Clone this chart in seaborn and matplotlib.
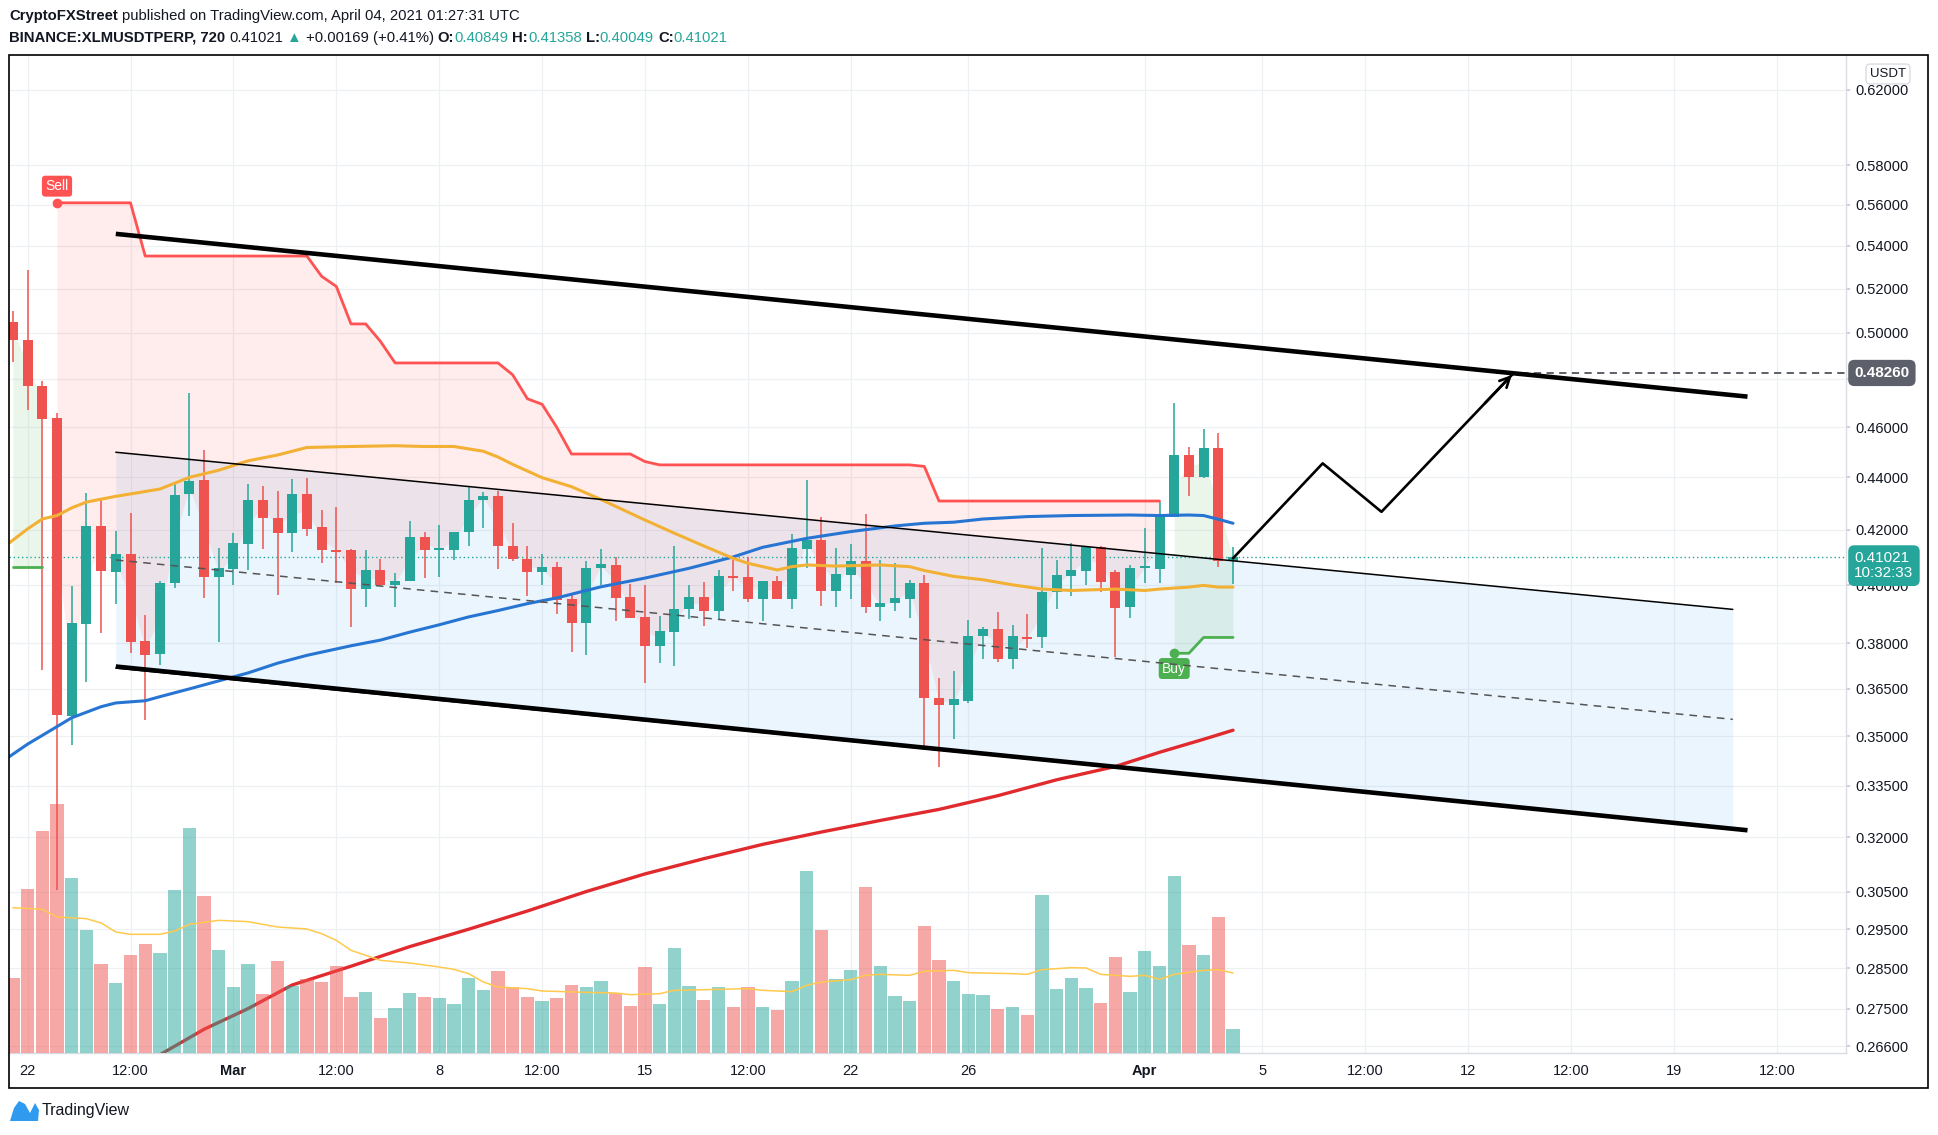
import numpy as np
import pandas as pd
import matplotlib
matplotlib.use("Agg")
import matplotlib.pyplot as plt
import seaborn as sns
from matplotlib.patches import Rectangle, Polygon
from matplotlib.ticker import FixedLocator, NullLocator

# --- candles, 12h bars, index 0 = Feb 22 00:00 ---
candle_idx = list(range(-1, 83))
opens = [0.5048, 0.4968, 0.4769, 0.4638, 0.3564, 0.3865, 0.4214, 0.4048, 0.4111, 0.3807,
         0.3762, 0.4006, 0.4334, 0.4390, 0.4030, 0.4058, 0.4150, 0.4312, 0.4243, 0.4190,
         0.4334, 0.4211, 0.4127, 0.4127, 0.3986, 0.4053, 0.3999, 0.4016, 0.4173, 0.4127,
         0.4127, 0.4193, 0.4312, 0.4327, 0.4141, 0.4092, 0.4048, 0.4064, 0.3951, 0.3869,
         0.4061, 0.4072, 0.3957, 0.3890, 0.3791, 0.3838, 0.3917, 0.3957, 0.3911, 0.4033,
         0.4028, 0.3950, 0.4015, 0.3952, 0.4131, 0.4163, 0.3980, 0.4036, 0.4086, 0.3924,
         0.3936, 0.3950, 0.4006, 0.3619, 0.3599, 0.3611, 0.3824, 0.3847, 0.3747, 0.3822,
         0.3819, 0.3977, 0.4033, 0.4051, 0.4138, 0.4048, 0.3924, 0.4060, 0.4057, 0.4250,
         0.4488, 0.4403, 0.4515, 0.40849]
highs = [0.5096, 0.5284, 0.4790, 0.4657, 0.3996, 0.4339, 0.4317, 0.4197, 0.4264, 0.3896,
         0.4016, 0.4378, 0.4741, 0.4507, 0.4134, 0.4190, 0.4374, 0.4367, 0.4349, 0.4393,
         0.4398, 0.4276, 0.4287, 0.4129, 0.4127, 0.4092, 0.4043, 0.4233, 0.4193, 0.4219,
         0.4193, 0.4364, 0.4342, 0.4349, 0.4226, 0.4141, 0.4113, 0.4081, 0.3969, 0.4088,
         0.4130, 0.4100, 0.4003, 0.4000, 0.3892, 0.4141, 0.4000, 0.4011, 0.4054, 0.4096,
         0.4100, 0.4015, 0.4033, 0.4185, 0.4390, 0.4247, 0.4134, 0.4148, 0.4260, 0.4090,
         0.4078, 0.4018, 0.4035, 0.3683, 0.3707, 0.3879, 0.3856, 0.3905, 0.3860, 0.3898,
         0.4132, 0.4090, 0.4151, 0.4141, 0.4141, 0.4054, 0.4072, 0.4206, 0.4307, 0.4701,
         0.4521, 0.4591, 0.4575, 0.41358]
lows = [0.4872, 0.4670, 0.3709, 0.3054, 0.3472, 0.3671, 0.3834, 0.3932, 0.3766, 0.3549,
        0.3728, 0.3989, 0.4254, 0.3956, 0.3804, 0.4000, 0.4053, 0.4131, 0.3966, 0.4120,
        0.4176, 0.4078, 0.4009, 0.3856, 0.3925, 0.3996, 0.3922, 0.4016, 0.4026, 0.4030,
        0.4089, 0.4141, 0.4207, 0.4058, 0.4085, 0.3960, 0.3999, 0.3900, 0.3770, 0.3759,
        0.4000, 0.3876, 0.3884, 0.3667, 0.3735, 0.3725, 0.3881, 0.3859, 0.3881, 0.3980,
        0.3940, 0.3876, 0.3950, 0.3918, 0.4060, 0.3927, 0.3924, 0.3950, 0.3904, 0.3876,
        0.3911, 0.3886, 0.3467, 0.3404, 0.3490, 0.3605, 0.3746, 0.3738, 0.3713, 0.3785,
        0.3782, 0.3918, 0.3962, 0.4000, 0.3977, 0.3755, 0.3886, 0.4009, 0.4009, 0.4250,
        0.4330, 0.4399, 0.4063, 0.40049]
closes = [0.4968, 0.4769, 0.4635, 0.3567, 0.3867, 0.4214, 0.4051, 0.4113, 0.3802, 0.3759,
          0.4007, 0.4331, 0.4386, 0.4030, 0.4060, 0.4152, 0.4312, 0.4243, 0.4190, 0.4334,
          0.4204, 0.4127, 0.4120, 0.3986, 0.4053, 0.3999, 0.4016, 0.4173, 0.4127, 0.4129,
          0.4193, 0.4312, 0.4327, 0.4141, 0.4092, 0.4048, 0.4064, 0.3949, 0.3869, 0.4061,
          0.4075, 0.3956, 0.3886, 0.3791, 0.3841, 0.3917, 0.3957, 0.3911, 0.4033, 0.4025,
          0.3950, 0.4015, 0.3952, 0.4132, 0.4163, 0.3980, 0.4040, 0.4086, 0.3924, 0.3936,
          0.3953, 0.4006, 0.3619, 0.3599, 0.3615, 0.3824, 0.3847, 0.3747, 0.3824, 0.3815,
          0.3977, 0.4035, 0.4054, 0.4138, 0.4012, 0.3921, 0.4060, 0.4063, 0.4252, 0.4488,
          0.4403, 0.4515, 0.4087, 0.41021]
volumes = [112.5, 245.5, 332.5, 373, 262, 184, 133, 104.5, 146.5, 163,
           149.5, 244, 337, 235, 154, 98.5, 133, 88, 137.5, 100,
           110.5, 106, 130, 83.5, 91, 52, 67, 89.5, 83.5, 82,
           73, 112, 94, 122.5, 98.5, 83.5, 77.5, 82, 101.5, 98.5,
           107.5, 89.5, 70, 128.5, 73, 157, 100, 79, 98.5, 68.5,
           98.5, 68.5, 64, 107.5, 272.5, 184, 110.5, 124, 248.5, 130,
           85, 77.5, 190, 139, 107.5, 88, 86.5, 65.5, 68.5, 56.5,
           236.5, 95.5, 112, 97, 74.5, 143.5, 91, 152.5, 130, 265,
           161.5, 146.5, 203.5, 35.5]

# --- supertrend ---
st_red_idx = list(range(2, 78))
st_red = [0.5610, 0.5610, 0.5610, 0.5610, 0.5610, 0.5610,
          0.5352, 0.5352, 0.5352, 0.5352, 0.5352, 0.5352, 0.5352, 0.5352, 0.5352, 0.5352, 0.5352, 0.5352,
          0.5257, 0.5210, 0.5040, 0.5040, 0.4963,
          0.4869, 0.4869, 0.4869, 0.4869, 0.4869, 0.4869, 0.4869, 0.4869,
          0.4818, 0.4717, 0.4694, 0.4599,
          0.4492, 0.4492, 0.4492, 0.4492, 0.4492, 0.4462,
          0.4449, 0.4449, 0.4449, 0.4449, 0.4449, 0.4449, 0.4449, 0.4449, 0.4449,
          0.4449, 0.4449, 0.4449, 0.4449, 0.4449, 0.4449, 0.4449, 0.4449, 0.4449,
          0.4443,
          0.4309, 0.4309, 0.4309, 0.4309, 0.4309, 0.4309, 0.4309, 0.4309,
          0.4309, 0.4309, 0.4309, 0.4309, 0.4309, 0.4309, 0.4309, 0.4309]
st_green_a_idx = [-1, 0, 1]
st_green_a = [0.4065, 0.4065, 0.4065]
st_green_b_idx = [78, 79, 80, 81, 82]
st_green_b = [0.3766, 0.3766, 0.3819, 0.3819, 0.3819]

# --- moving averages ---
ma_orange_idx = [-1.3, 0, 1, 2, 3, 4, 6, 7, 9, 11, 12, 13, 15, 17, 19, 22, 25, 27, 29, 31, 32, 33, 35,
                 37, 39, 42, 44, 46, 48, 49, 51, 52, 53, 55, 58, 60, 61, 63, 65, 67, 69, 71, 74, 76,
                 77, 79, 80, 81, 82]
ma_orange = [0.4150, 0.4204, 0.4241, 0.4254, 0.4283, 0.4305, 0.4327, 0.4336, 0.4355, 0.4400, 0.4414,
             0.4428, 0.4465, 0.4488, 0.4518, 0.4522, 0.4525, 0.4522, 0.4522, 0.4503, 0.4480, 0.4451,
             0.4399, 0.4364, 0.4315, 0.4237, 0.4188, 0.4141, 0.4096, 0.4078, 0.4054, 0.4066, 0.4072,
             0.4068, 0.4072, 0.4066, 0.4052, 0.4031, 0.4019, 0.4001, 0.3986, 0.3981, 0.3986, 0.3981,
             0.3986, 0.3993, 0.3999, 0.3993, 0.3993]
ma_blue_idx = [-1.3, 0, 1, 3, 5, 6, 8, 9, 11, 13, 15, 17, 19, 22, 24, 26, 28, 30, 32, 34, 36, 38, 39,
               42, 45, 48, 50, 53, 56, 59, 61, 63, 65, 68, 71, 75, 77, 79, 80, 81, 82]
ma_blue = [0.3435, 0.3475, 0.3502, 0.3557, 0.3592, 0.3604, 0.3611, 0.3624, 0.3649, 0.3675, 0.3701,
           0.3733, 0.3759, 0.3791, 0.3810, 0.3837, 0.3862, 0.3889, 0.3911, 0.3935, 0.3955, 0.3981,
           0.3994, 0.4025, 0.4060, 0.4101, 0.4136, 0.4169, 0.4194, 0.4215, 0.4225, 0.4229, 0.4241,
           0.4250, 0.4254, 0.4256, 0.4254, 0.4256, 0.4254, 0.4240, 0.4225]
ma_red_idx = [8, 9, 12, 15, 18, 22, 26, 30, 34, 38, 42, 46, 50, 54, 58, 62, 66, 70, 74, 77, 80, 82]
ma_red = [0.2625, 0.2640, 0.2700, 0.2750, 0.2808, 0.2855, 0.2905, 0.2950, 0.2998, 0.3050, 0.3098,
          0.3140, 0.3180, 0.3215, 0.3248, 0.3280, 0.3320, 0.3367, 0.3407, 0.3450, 0.3490, 0.3518]
vol_ma_idx = [-1, 1, 2, 4, 5, 6, 7, 9, 10, 11, 13, 15, 17, 19, 20, 21, 22, 24, 26, 28, 29, 30, 31, 32,
              34, 35, 38, 40, 41, 43, 44, 46, 49, 50, 52, 53, 54, 56, 57, 58, 60, 61, 63, 64, 67, 68,
              69, 71, 72, 73, 75, 76, 77, 78, 80, 81, 82]
vol_ma = [218, 215.5, 204, 201.5, 195, 181.5, 178, 178, 183, 193, 199, 197, 189, 186, 179, 169, 154,
          139, 135, 129, 125.5, 119, 106.5, 99, 96.5, 93, 91, 90, 87.5, 89, 94, 95, 96.5, 94, 92,
          101.5, 106.5, 110, 116.5, 118, 116.5, 122.5, 124, 120.5, 119, 118, 125, 128, 127.5, 118,
          115, 116.5, 110.5, 118, 124, 125, 120]

# --- drawings ---
chan_x = [6, 116]
chan_top = [0.4499, 0.3915]
chan_mid = [0.4090, 0.3552]
chan_bot = [0.3717, 0.3223]
trend_x = [6, 117]
trend_up = [0.5458, 0.4726]
trend_dn = [0.3722, 0.3220]
zig_x = [82, 88.1, 92.1, 101.1]
zig_y = [0.4096, 0.4455, 0.4268, 0.4826]
target = 0.4826
last_price = 0.41021

y_ticks = [0.62, 0.58, 0.56, 0.54, 0.52, 0.50, 0.48, 0.46, 0.44, 0.42, 0.40, 0.38, 0.365, 0.35,
           0.335, 0.32, 0.305, 0.295, 0.285, 0.275, 0.266]
x_ticks = [0, 7, 14, 21, 28, 35, 42, 49, 56, 64, 76, 84, 91, 98, 105, 112, 119]
x_labels = ["22", "12:00", "Mar", "12:00", "8", "12:00", "15", "12:00", "22", "26", "Apr", "5",
            "12:00", "12", "12:00", "19", "12:00"]

UP, DN = "#26A69A", "#EF5350"
TXT = "#131722"
W, H = 1938, 1135

sns.set_theme(style="white")
plt.rcParams["font.family"] = ["Liberation Sans", "DejaVu Sans"]

df = pd.DataFrame({"i": candle_idx, "o": opens, "h": highs, "l": lows, "c": closes, "v": volumes})
df["up"] = df["c"] >= df["o"]
df["mid"] = (df["o"] + df["c"]) / 2
cols = np.where(df["up"], UP, DN)

fig = plt.figure(figsize=(W / 100, H / 100), dpi=100)
fig.patch.set_facecolor("white")
ax = fig.add_axes([8.5 / W, 1 - 1053 / H, (1846 - 8.5) / W, (1053 - 55) / H])
ax.set_yscale("log")
ax.set_ylim(0.2644, 0.6394)
ax.set_xlim(-1.3, 123.7)

# volume pane (twin, drawn over the price pane, translucent)
axv = ax.twinx()
axv.set_ylim(0, 1497)
axv.set_yticks([])
axv.patch.set_visible(False)
for s in axv.spines.values():
    s.set_visible(False)
axv.bar(df["i"], df["v"], width=0.9, color=cols, alpha=0.5, lw=0)
sns.lineplot(x=vol_ma_idx, y=vol_ma, ax=axv, color="#FFC94D", lw=1.1)
axv.set_ylabel("")
axv.set_xlim(-1.3, 123.7)

# grid
ax.yaxis.set_major_locator(FixedLocator(y_ticks))
ax.yaxis.set_minor_locator(NullLocator())
ax.set_xticks(x_ticks)
ax.grid(True, color="#EEF0F3", lw=0.9)
ax.set_axisbelow(True)

# channel fill + supertrend fills
ax.fill_between(chan_x, chan_top, chan_bot, color="#2196F3", alpha=0.09, lw=0, zorder=1)
mid = df.set_index("i")["mid"]
ax.fill_between(st_red_idx, st_red, mid.loc[st_red_idx].values, color="#FF5252", alpha=0.11, lw=0, zorder=1.2)
ax.fill_between(st_green_a_idx, st_green_a, mid.loc[st_green_a_idx].values, color="#4CAF50", alpha=0.11, lw=0, zorder=1.2)
ax.fill_between(st_green_b_idx, st_green_b, mid.loc[st_green_b_idx].values, color="#4CAF50", alpha=0.11, lw=0, zorder=1.2)

# current price dotted line
ax.axhline(last_price, color=UP, ls=(0, (1, 2)), lw=1, zorder=2)

# candles
ax.vlines(df["i"], df["l"], df["h"], colors=cols, lw=1.1, zorder=2.5)
body = np.maximum((df["c"] - df["o"]).abs(), 0.0007)
ax.bar(df["i"], body, bottom=np.minimum(df["o"], df["c"]), width=0.68, color=cols, lw=0, zorder=2.6)

# moving averages
sns.lineplot(x=ma_red_idx, y=ma_red, ax=ax, color="#E02A2E", lw=2.4, zorder=3)
sns.lineplot(x=ma_blue_idx, y=ma_blue, ax=ax, color="#2775D3", lw=2.2, zorder=3)
sns.lineplot(x=ma_orange_idx, y=ma_orange, ax=ax, color="#F2B134", lw=2.2, zorder=3)

# supertrend lines
sns.lineplot(x=st_red_idx, y=st_red, ax=ax, color="#FF5252", lw=2, zorder=3.2)
sns.lineplot(x=st_green_a_idx, y=st_green_a, ax=ax, color="#4CAF50", lw=2, zorder=3.2)
sns.lineplot(x=st_green_b_idx, y=st_green_b, ax=ax, color="#4CAF50", lw=2, zorder=3.2)
ax.plot(2, st_red[0], "o", ms=6, color="#FF5252", zorder=3.3)
ax.plot(78, st_green_b[0], "o", ms=6, color="#4CAF50", zorder=3.3)
ax.annotate("Sell", xy=(2, st_red[0]), xytext=(0, 12), textcoords="offset points", ha="center",
            va="center", color="white", fontsize=10,
            bbox=dict(boxstyle="round,pad=0.25", fc="#FF5252", ec="none"), zorder=4)
ax.annotate("Buy", xy=(78, st_green_b[0]), xytext=(0, -11), textcoords="offset points", ha="center",
            va="center", color="white", fontsize=10,
            bbox=dict(boxstyle="round,pad=0.25", fc="#4CAF50", ec="none"), zorder=4)

# channel and trend lines
ax.plot(chan_x, chan_top, color="black", lw=1.1, zorder=4)
ax.plot(chan_x, chan_mid, color="#555555", lw=1.1, ls=(0, (5, 4)), zorder=4)
ax.plot(chan_x, chan_bot, color="black", lw=1.1, zorder=4)
ax.plot(trend_x, trend_up, color="black", lw=3.3, zorder=4.2, solid_capstyle="butt")
ax.plot(trend_x, trend_dn, color="black", lw=3.3, zorder=4.2, solid_capstyle="butt")

# projected path
sns.lineplot(x=zig_x, y=zig_y, ax=ax, color="black", lw=1.9, zorder=4.3, sort=False)
ax.annotate("", xy=(zig_x[-1], zig_y[-1]), xytext=(99.0, 0.4690),
            arrowprops=dict(arrowstyle="->", lw=1.9, color="black", mutation_scale=18), zorder=4.3)
ax.hlines(target, 99.9, 123.7, color="#50535E", lw=1.3, ls=(0, (4, 3)), zorder=4)

# axes cosmetics (price scale on the right)
ax.yaxis.tick_right()
ax.yaxis.set_label_position("right")
ax.set_yticklabels([f"{v:.5f}" for v in y_ticks])
ax.tick_params(axis="y", which="major", right=True, left=False, labelright=True, labelleft=False,
               length=3, color="#C8CBD2", pad=4, labelsize=10.5, labelcolor=TXT)
ax.set_xticklabels(x_labels)
ax.tick_params(axis="x", length=0, pad=8, labelsize=10.5, labelcolor=TXT)
for t in ax.get_xticklabels():
    if t.get_text() in ("Mar", "Apr"):
        t.set_fontweight("bold")
for s in ("top", "left"):
    ax.spines[s].set_visible(False)
for s in ("right", "bottom"):
    ax.spines[s].set_color("#D9DCE3")
    ax.spines[s].set_linewidth(1)
ax.set_xlabel("")
ax.set_ylabel("")

# price labels on scale
ax.annotate("0.48260", xy=(1, target), xycoords=("axes fraction", "data"), xytext=(6, 0),
            textcoords="offset points", ha="left", va="center", color="white", fontsize=11,
            fontweight="bold", bbox=dict(boxstyle="round,pad=0.4", fc="#5D606B", ec="none"),
            annotation_clip=False, zorder=6)
ax.annotate("0.41021\n10:32:33", xy=(1, last_price), xytext=(6, -6.5), xycoords=("axes fraction", "data"),
            textcoords="offset points", ha="left", va="center", color="white", fontsize=11,
            linespacing=1.05, bbox=dict(boxstyle="round,pad=0.4", fc=UP, ec="none"),
            annotation_clip=False, zorder=6)
fig.text(1888 / W, 1 - 74 / H, "USDT", ha="center", va="center", fontsize=9.5, color=TXT, zorder=7,
         bbox=dict(boxstyle="round,pad=0.3", fc="white", ec="#D1D4DC", lw=0.8))

# outer frame
fig.add_artist(Rectangle((8.5 / W, 1 - 1088 / H), (1928 - 8.5) / W, (1088 - 55) / H,
                         transform=fig.transFigure, fill=False, ec="black", lw=1.2))

# header
renderer = fig.canvas.get_renderer()


def write_runs(x_px, y_px, runs, size):
    x = x_px
    for s, color, weight, gap in runs:
        t = fig.text(x / W, 1 - y_px / H, s, color=color, fontsize=size, fontweight=weight,
                     ha="left", va="center")
        x += t.get_window_extent(renderer=renderer).width + gap


write_runs(9, 16, [("CryptoFXStreet", TXT, "bold", 4),
                   ("published on TradingView.com, April 04, 2021 01:27:31 UTC", TXT, "normal", 0)], 10.7)
write_runs(9, 38, [("BINANCE:XLMUSDTPERP, 720", TXT, "bold", 4),
                   ("0.41021", TXT, "normal", 4),
                   ("\u25B2", UP, "normal", 4),
                   ("+0.00169 (+0.41%)", TXT, "normal", 4),
                   ("O:", TXT, "bold", 0), ("0.40849", UP, "normal", 4),
                   ("H:", TXT, "bold", 0), ("0.41358", UP, "normal", 4),
                   ("L:", TXT, "bold", 0), ("0.40049", UP, "normal", 4),
                   ("C:", TXT, "bold", 0), ("0.41021", UP, "normal", 0)], 10.7)

# TradingView footer
logo = [(10, 1121), (14, 1108), (19, 1101), (25, 1104), (30, 1113), (35, 1103), (39, 1110), (38, 1121)]
fig.add_artist(Polygon([(x / W, 1 - y / H) for x, y in logo], closed=True, transform=fig.transFigure,
                       fc="#2E9BF0", ec="none"))
fig.text(42 / W, 1 - 1111 / H, "TradingView", fontsize=11.5, color=TXT, ha="left", va="center")

fig.savefig("out.png", dpi=100)
